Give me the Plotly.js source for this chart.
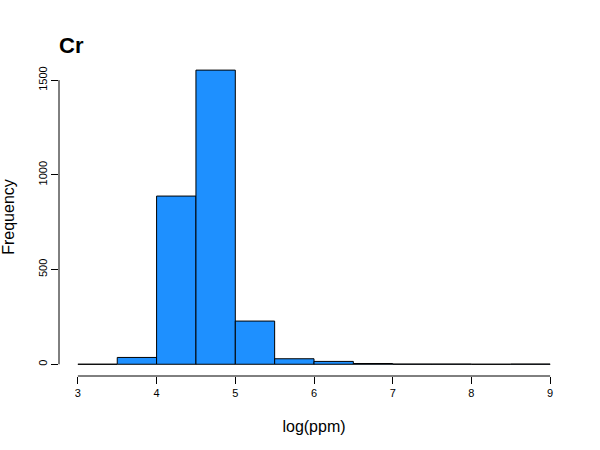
<!DOCTYPE html>
<html>
<head>
<meta charset="utf-8">
<script src="https://cdn.plot.ly/plotly-3.0.1.min.js"></script>
<style>
  body { margin: 0; background: #fff; }
  #plot { width: 600px; height: 450px; }
</style>
</head>
<body>
<div id="plot"></div>
<script>
// histogram of log(ppm) for Cr, bins of width 0.5
const binStarts = [3, 3.5, 4, 4.5, 5, 5.5, 6, 6.5, 7, 7.5, 8, 8.5];
const counts = [0, 36, 888, 1553, 228, 29, 15, 4, 1, 1, 0, 1];
const binWidth = 0.5;
const xTicks = [3, 4, 5, 6, 7, 8, 9];
const yTicks = [0, 500, 1000, 1500];

const centers = binStarts.map(b => b + binWidth / 2);

const trace = {
    x: centers,
    y: counts,
    type: 'bar',
    width: binWidth,
    marker: { color: '#1E90FF', line: { color: '#000', width: 1 } },
    hoverinfo: 'x+y'
};

const font = 'Liberation Sans, Arial, sans-serif';

const layout = {
    width: 600,
    height: 450,
    margin: { l: 59, r: 31, t: 58, b: 74 },
    paper_bgcolor: '#fff',
    plot_bgcolor: '#fff',
    showlegend: false,
    bargap: 0,
    font: { family: font, color: '#000' },
    title: {
        text: '<b>Cr</b>',
        font: { size: 22, family: font, color: '#000' },
        x: 0, xref: 'paper', xanchor: 'left',
        y: 1 - 45 / 450, yref: 'container', yanchor: 'middle'
    },
    xaxis: {
        range: [2.76, 9.24],
        tickvals: xTicks,
        ticktext: xTicks.map(String),
        ticks: 'outside', ticklen: 7, tickwidth: 1, tickcolor: '#000',
        tickfont: { size: 11 },
        showline: false, showgrid: false, zeroline: false,
        title: { text: 'log(ppm)', font: { size: 16 }, standoff: 22 }
    },
    yaxis: {
        range: [-62, 1617],
        tickvals: yTicks,
        ticktext: yTicks.map(String),
        tickangle: -90,
        ticks: 'outside', ticklen: 7, tickwidth: 1, tickcolor: '#000',
        tickfont: { size: 11 },
        showline: false, showgrid: false, zeroline: false,
        title: { text: 'Frequency', font: { size: 16 }, standoff: 18 }
    },
    shapes: [
        // R-style axis lines spanning only first to last tick
        { type: 'line', xref: 'x', yref: 'paper', x0: xTicks[0], x1: xTicks[xTicks.length - 1], y0: 0, y1: 0,
          line: { color: '#000', width: 1 } },
        { type: 'line', xref: 'paper', yref: 'y', x0: 0, x1: 0, y0: yTicks[0], y1: yTicks[yTicks.length - 1],
          line: { color: '#000', width: 1 } }
    ]
};

Plotly.newPlot('plot', [trace], layout, { displayModeBar: false, staticPlot: true });
</script>
</body>
</html>
